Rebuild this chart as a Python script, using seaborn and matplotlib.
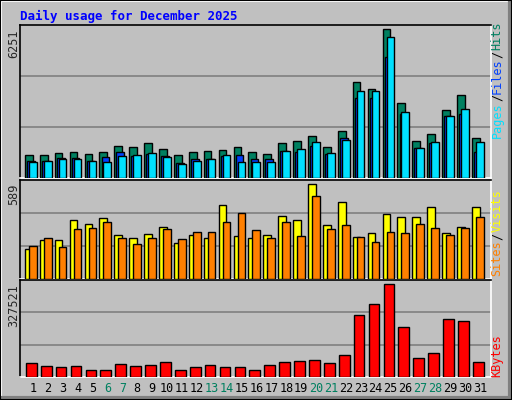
import matplotlib
matplotlib.use("Agg")
import matplotlib.pyplot as plt
import seaborn as sns
import numpy as np
from matplotlib.patches import Rectangle
from matplotlib.lines import Line2D

days = list(range(1, 32))
weekend = [6, 7, 13, 14, 20, 21, 27, 28]
hits = [947, 947, 1032, 1075, 990, 1075, 1329, 1287, 1457, 1202, 947, 1075, 1117, 1160, 1287, 1075,
        990, 1457, 1541, 1753, 1287, 1966, 4044, 3747, 6251, 3153, 1541, 1838, 2856, 3493, 1669]
files = [735, 735, 820, 820, 735, 863, 1075, 905, 990, 905, 650, 778, 778, 905, 947, 778,
         778, 1117, 1075, 1329, 990, 1669, 3365, 3365, 5105, 2687, 1244, 1457, 2602, 2687, 1075]
pages = [693, 735, 778, 778, 735, 693, 905, 947, 1032, 863, 608, 735, 778, 947, 693, 693,
         693, 1117, 1202, 1499, 1032, 1584, 3662, 3662, 5911, 2771, 1244, 1499, 2602, 2899, 1499]
visits = [186, 243, 243, 365, 339, 378, 275, 256, 282, 320, 224, 275, 256, 461, 269, 256,
          275, 391, 365, 589, 333, 480, 262, 288, 403, 384, 384, 448, 288, 320, 448]
sites = [205, 256, 198, 307, 314, 352, 256, 218, 256, 307, 250, 294, 294, 352, 410, 301,
         256, 352, 269, 512, 307, 333, 262, 230, 294, 288, 339, 314, 275, 314, 384]
kbytes = [47800, 37045, 33460, 37045, 26290, 26290, 44215, 37045, 40630, 51385, 26290, 33460,
          40630, 33460, 33460, 26290, 40630, 51385, 54970, 58555, 47800, 76480, 219880, 255730,
          327521, 176860, 65725, 83650, 205540, 198370, 51385]

sns.set_style("white")
plt.rcParams['font.family'] = ['DejaVu Sans Mono', 'DejaVu Sans']
BG = "#C0C0C0"
fig = plt.figure(figsize=(5.12, 4.0), dpi=100, facecolor=BG)
W, H = 512, 400

# bevel border
fig.add_artist(Line2D([1/W, 1/W, 1 - 1/W], [2/H, 1 - 1/H, 1 - 1/H], transform=fig.transFigure, color="white", lw=1.5))
fig.add_artist(Line2D([1/W, 1 - 2/W, 1 - 2/W], [2/H, 2/H, 1 - 1/H], transform=fig.transFigure, color="#808080", lw=3))
fig.add_artist(Line2D([0, 0, 1, 1, 0], [0, 1, 1, 0, 0], transform=fig.transFigure, color="black", lw=1.5))


def panel(top, bottom):
    ax = fig.add_axes([20/W, 1 - bottom/H, 471/W, (bottom - top)/H])
    ax.set_facecolor(BG)
    for s in ["top", "left"]:
        ax.spines[s].set_color("black")
    for s in ["bottom", "right"]:
        ax.spines[s].set_color("white")
    for s in ax.spines.values():
        s.set_linewidth(1.2)
    ax.set_xticks([])
    ax.set_yticks([])
    ax.set_xlim(0.13, 31.74)
    return ax


def bars(ax, vals, off, width, color):
    sns.barplot(x=np.array(days) + off, y=vals, native_scale=True, width=width,
                color=color, edgecolor="black", linewidth=1, ax=ax, zorder=3, saturation=1)


def grid(ax, top):
    for f in (1/3, 2/3):
        ax.axhline(top * f, color="#808080", lw=1.2, zorder=1)


ax1 = panel(25, 178)
top1 = 6251 * 152 / 147.7
ax1.set_ylim(0, top1)
grid(ax1, top1)
bars(ax1, hits, -0.28, 0.52, "#008060")
bars(ax1, files, -0.14, 0.52, "#0040FF")
bars(ax1, pages, -0.01, 0.52, "#00E0FF")
ax1.set_ylim(0, top1)

ax2 = panel(180, 279)
top2 = 589 * 99 / 95
ax2.set_ylim(0, top2)
grid(ax2, top2)
bars(ax2, visits, -0.28, 0.52, "#FFFF00")
bars(ax2, sites, -0.01, 0.52, "#FF8000")
ax2.set_ylim(0, top2)

ax3 = panel(280, 377)
top3 = 327521 * 97 / 93
ax3.set_ylim(0, top3)
grid(ax3, top3)
bars(ax3, kbytes, -0.11, 0.72, "#FF0000")
ax3.set_ylim(0, top3)

for ax in (ax1, ax2, ax3):
    ax.set_xlabel("")
    ax.set_ylabel("")
    ax.set_xticks([])
    ax.set_xlim(0.13, 31.74)

# title
fig.text(20/W, 1 - 16/H, "Daily usage for December 2025", color="#0000FF",
         fontsize=9, fontweight="bold", va="center", ha="left")

# max labels
fs = 8.5
fig.text(14/W, 1 - 29/H, "6251", rotation=90, fontsize=fs, ha="center", va="top")
fig.text(14/W, 1 - 184/H, "589", rotation=90, fontsize=fs, ha="center", va="top")
fig.text(14/W, 1 - 284/H, "327521", rotation=90, fontsize=fs, ha="center", va="top")

# right legends (bottom to top)
def legend(parts, y0):
    y = y0
    for txt, col in parts:
        t = fig.text(497/W, 1 - y/H, txt, rotation=90, fontsize=fs, color=col,
                     ha="center", va="bottom")
        y -= len(txt) * 7.3
    return t

legend([("Pages", "#00E0FF"), ("/", "black"), ("Files", "#0040FF"), ("/", "black"), ("Hits", "#008060")], 138)
legend([("Sites", "#FF8000"), ("/", "black"), ("Visits", "#FFFF00")], 276)
legend([("KBytes", "#FF0000")], 377)

# day labels
for d in days:
    x = (33 + 14.9 * (d - 1)) / W
    fig.text(x, 1 - 389/H, str(d), fontsize=fs, ha="center", va="center",
             color="#008060" if d in weekend else "black")

fig.savefig("out.png", dpi=100, facecolor=BG)
